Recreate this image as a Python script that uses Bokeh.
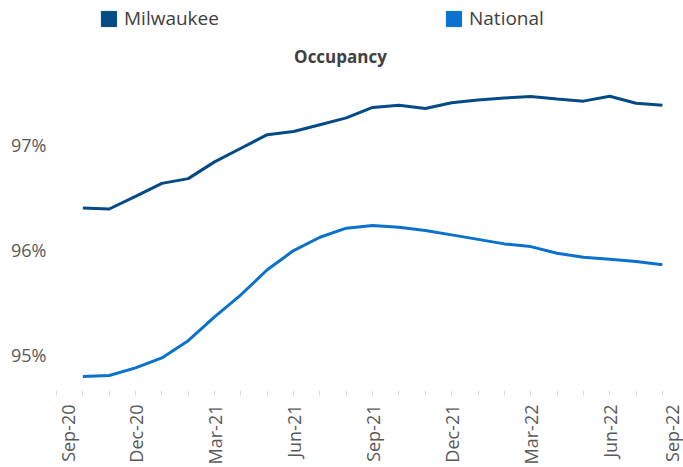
import numpy as np
from bokeh.plotting import figure
from bokeh.models import (FixedTicker, PrintfTickFormatter, Legend, LegendItem,
                          Label, Range1d)
from bokeh.embed import file_html
from bokeh.resources import INLINE

# ---- data ----
months = ["Oct-20", "Nov-20", "Dec-20", "Jan-21", "Feb-21", "Mar-21", "Apr-21",
          "May-21", "Jun-21", "Jul-21", "Aug-21", "Sep-21", "Oct-21", "Nov-21",
          "Dec-21", "Jan-22", "Feb-22", "Mar-22", "Apr-22", "May-22", "Jun-22",
          "Jul-22", "Aug-22"]
milwaukee = [96.40, 96.39, 96.51, 96.635, 96.68, 96.84, 96.97, 97.10, 97.13,
             97.195, 97.26, 97.36, 97.38, 97.35, 97.405, 97.43, 97.45, 97.465,
             97.44, 97.42, 97.467, 97.40, 97.38]
national = [94.79, 94.80, 94.873, 94.968, 95.133, 95.36, 95.571, 95.81, 95.993,
            96.12, 96.207, 96.232, 96.216, 96.184, 96.143, 96.10, 96.057, 96.031,
            95.968, 95.93, 95.911, 95.889, 95.857]
tick_labels = ["Sep-20", "Dec-20", "Mar-21", "Jun-21", "Sep-21", "Dec-21",
               "Mar-22", "Jun-22", "Sep-22"]
y_ticks = [95, 96, 97]

# month index: Sep-20 = 0
x = list(range(1, len(months) + 1))
label_pos = [0.45, 3, 6, 9, 12, 15, 18, 21, 23.5]

C_MKE = "#044a87"
C_NAT = "#0a72cd"
FONT = "Open Sans"

p = figure(width=683, height=467, output_backend="svg", toolbar_location=None,
           title=None,
           x_range=Range1d(0, 23.8), y_range=Range1d(94.657, 98.381),
           min_border_left=56, min_border_right=0, min_border_top=0,
           min_border_bottom=76)
p.outline_line_color = None
p.xgrid.visible = False
p.ygrid.visible = False
p.background_fill_color = "white"
p.border_fill_color = "white"

r_mke = p.line(x, milwaukee, line_color=C_MKE, line_width=3)
r_nat = p.line(x, national, line_color=C_NAT, line_width=3)

# legend swatches (renderers with no drawable geometry, square patches)
nan = [np.nan]
s_mke = p.quad(left=nan, right=nan, top=nan, bottom=nan,
               fill_color=C_MKE, line_color=C_MKE)
s_nat = p.quad(left=nan, right=nan, top=nan, bottom=nan,
               fill_color=C_NAT, line_color=C_NAT)

for lab, rend, vx in (("Milwaukee", s_mke, 43), ("National", s_nat, 388)):
    lg = Legend(items=[LegendItem(label=lab, renderers=[rend])],
                location=(vx, 359), orientation="horizontal",
                border_line_color=None, background_fill_alpha=0,
                padding=0, margin=0, glyph_width=19, glyph_height=19,
                label_standoff=6, label_text_font=FONT,
                label_text_font_size="19px", label_text_color="#404040")
    p.add_layout(lg, "center")

title = Label(x=284, y=334, x_units="screen", y_units="screen", text="Occupancy",
              text_align="center", text_baseline="middle", text_font=FONT,
              text_font_style="bold", text_font_size="17px", text_color="#404040")
p.add_layout(title)

# y axis
ya = p.yaxis[0]
ya.ticker = FixedTicker(ticks=y_ticks)
ya.formatter = PrintfTickFormatter(format="%d%%")
ya.axis_line_color = None
ya.major_tick_line_color = None
ya.minor_tick_line_color = None
ya.major_tick_in = 0
ya.major_tick_out = 0
ya.major_label_standoff = 10
ya.major_label_text_font = FONT
ya.major_label_text_font_size = "18px"
ya.major_label_text_color = "#595959"

# x axis
xa = p.xaxis[0]
xa.ticker = FixedTicker(ticks=label_pos, minor_ticks=list(range(0, 25)))
xa.major_label_overrides = {pos: lab for pos, lab in zip(label_pos, tick_labels)}
xa.major_label_orientation = np.pi / 2
xa.axis_line_color = None
xa.major_tick_line_color = None
xa.major_tick_in = 0
xa.major_tick_out = 0
xa.minor_tick_line_color = "#d9d9d9"
xa.minor_tick_in = 0
xa.minor_tick_out = 5
xa.major_label_standoff = 9
xa.major_label_text_font = FONT
xa.major_label_text_font_size = "18px"
xa.major_label_text_color = "#595959"

open("out.html", "w").write(file_html(p, INLINE))
